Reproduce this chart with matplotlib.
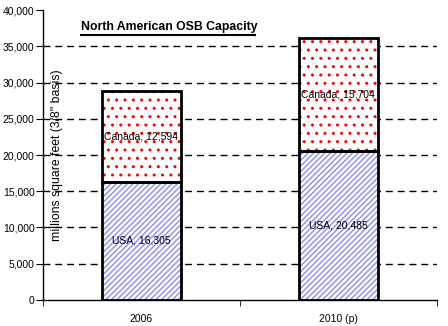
import numpy as np
import matplotlib.pyplot as plt

plt.rcParams['font.family'] = ['Liberation Sans', 'DejaVu Sans']
plt.rcParams['hatch.linewidth'] = 1.0

# capacity, million sq ft (3/8" basis)
years = ['2006', '2010 (p)']
usa = [16305, 20485]
canada = [12594, 15704]
yticks = np.arange(0, 40001, 5000)

fig = plt.figure(figsize=(4.48, 3.26), dpi=100)
ax = fig.add_axes([0.096, 0.080, 0.879, 0.889])

x = np.arange(len(years))
w = 0.40

# dashed grid behind the bars
for t in yticks[1:-1]:
    ax.axhline(t, color='black', lw=1, ls=(0, (5, 3.5)), zorder=0)

# hatched fills (no outline), then the black outlines on top
ax.bar(x, usa, w, color='white', edgecolor='#8c8cf0', hatch='//////', lw=0, zorder=2)
ax.bar(x, canada, w, bottom=usa, color='white', edgecolor='red', hatch='..', lw=0, zorder=2)
ax.bar(x, usa, w, fill=False, edgecolor='black', lw=2, zorder=3)
ax.bar(x, canada, w, bottom=usa, fill=False, edgecolor='black', lw=2, zorder=3)

for i in range(len(years)):
    ax.text(x[i], usa[i] / 2, f'USA, {usa[i]:,}', ha='center', va='center', fontsize=7.5, zorder=4)
    ax.text(x[i], usa[i] + canada[i] / 2, f'Canada, {canada[i]:,}', ha='center', va='center',
            fontsize=7.5, zorder=4)

ax.set_xlim(-0.5, 1.5)
ax.set_ylim(0, 40000)
ax.set_yticks(yticks)
ax.set_yticklabels([f'{t:,}' for t in yticks], fontsize=7.5)
ax.set_xticks(x)
ax.set_xticklabels(years, fontsize=7.5)
ax.tick_params(axis='x', length=0, pad=10)
ax.set_xticks([-0.5, 0.5, 1.5], minor=True)
ax.tick_params(axis='x', which='minor', length=4, direction='out')
ax.tick_params(axis='y', length=5, direction='out', pad=1)

for s in ['top', 'right']:
    ax.spines[s].set_visible(False)
ax.spines['left'].set_linewidth(1)
ax.spines['bottom'].set_linewidth(1)

ax.text(0.036, 0.5, 'millions square feet (3/8" basis)', transform=ax.transAxes,
        rotation=90, ha='center', va='center', fontsize=8.8)
ax.text(0.097, 0.941, 'North American OSB Capacity', transform=ax.transAxes,
        ha='left', va='center', fontsize=8.8, fontweight='bold')
ax.plot([0.097, 0.538], [0.913, 0.913], transform=ax.transAxes, color='black', lw=1.5,
        clip_on=False)

fig.savefig('out.png', dpi=100)
